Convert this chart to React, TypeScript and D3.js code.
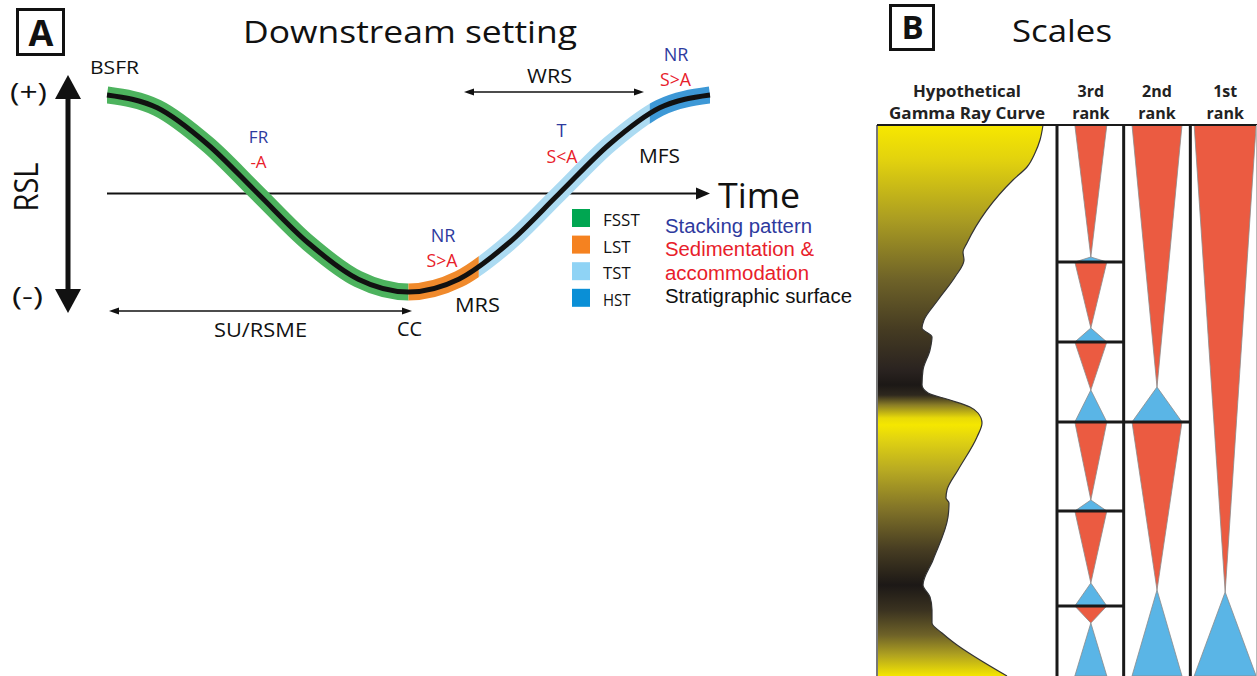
import React from 'react';
import * as d3 from 'd3';

// ---------- Panel A: relative sea level through one cycle ----------
const TIME = [0, 1, 2, 3, 4, 5, 6, 7, 8, 9, 10, 11, 12];
const RSL = [1, 0.87, 0.5, 0, -0.5, -0.87, -1, -0.87, -0.5, 0, 0.5, 0.87, 1];

const TRACT_NAMES = ['FSST', 'LST', 'TST', 'HST'];
const TRACT_START = [0, 6, 7.4, 10.8];
const TRACT_END = [6, 7.4, 10.8, 12];
const TRACT_BAND_COLORS = ['#4db35e', '#f08a2c', '#acdbf2', '#3d98d6'];
const TRACT_KEY_COLORS = ['#00a651', '#f58220', '#8fd3f5', '#0a8fd6'];

const KEY_TEXT = ['Stacking pattern', 'Sedimentation &', 'accommodation', 'Stratigraphic surface'];
const KEY_TEXT_COLORS = ['#2e3a9e', '#e8202a', '#e8202a', '#111111'];

// ---------- Panel B: hypothetical gamma ray log and cycle ranks ----------
const GR_DEPTH = [0, 3, 5.6, 8.4, 11, 23.6, 25.4, 27, 30.4, 35, 39, 40.6, 42.4, 45, 49, 52, 53.6, 55, 56.4, 57.6, 59.6, 62.4, 69, 73, 74.6, 75.6, 78.4, 87, 92, 94.4, 97, 99.6, 101.6, 103.4, 110.2];
const GR_API = [166, 163, 158, 150, 136, 90, 86, 87, 78, 61, 47, 45, 55, 53, 46, 45, 51, 73, 93, 101, 105, 100, 81, 70, 69, 72, 71, 56, 46, 53, 55, 55, 65, 76, 130];

const RANK_LABELS = ['3rd', '2nd', '1st'];
const RANK3_TOP = [0, 27.4, 43.4, 59.4, 77.2, 96.2];
const RANK3_TURN = [26.4, 40.6, 53, 75, 91.6, 99.6];
const RANK3_BASE = [27.4, 43.4, 59.4, 77.2, 96.2, 110.2];
const RANK2_TOP = [0, 59.4];
const RANK2_TURN = [52.4, 93];
const RANK2_BASE = [59.4, 110.2];
const RANK1_TOP = [0];
const RANK1_TURN = [93.4];
const RANK1_BASE = [110.2];

const CALIBRI = "'Open Sans', 'DejaVu Sans', sans-serif";
const ARIAL = "'Liberation Sans', Arial, sans-serif";
const RED = '#eb5b41';
const BLUE = '#5ab5e6';
const TEXT_BLUE = '#2e3a9e';
const TEXT_RED = '#e8202a';

export default function App() {
  const W = 1257;
  const H = 676;

  const x = d3.scaleLinear().domain([0, 12]).range([107, 710]);
  const y = d3.scaleLinear().domain([-1, 1]).range([292, 95]);
  const rslPts = TIME.map((t, i) => [t, RSL[i]] as [number, number]);
  const rslLine = d3
    .line<[number, number]>()
    .x((d) => x(d[0]))
    .y((d) => y(d[1]))
    .curve(d3.curveMonotoneX);
  const rslPath = rslLine(rslPts) || '';

  const depth = d3.scaleLinear().domain([0, 110.2]).range([125, 676]);
  const gr = d3.scaleLinear().domain([0, 170]).range([877, 1047]);
  const grPts = GR_DEPTH.map((dd, i) => [GR_API[i], dd] as [number, number]);
  const grLine = d3
    .line<[number, number]>()
    .x((d) => gr(d[0]))
    .y((d) => depth(d[1]))
    .curve(d3.curveMonotoneY);
  const grCurve = grLine(grPts) || '';
  const grArea = grCurve + `L${gr(0)},${depth(110.2)}L${gr(0)},${depth(0)}Z`;

  const rankX = d3.scaleBand<string>().domain(RANK_LABELS).range([1057, 1257]);
  const halfW: Record<string, number> = { '3rd': 16, '2nd': 25, '1st': 31 };
  const centerShift: Record<string, number> = { '3rd': 0.5, '2nd': 0, '1st': 1.5 };
  const ranks: Record<string, { top: number[]; turn: number[]; base: number[] }> = {
    '3rd': { top: RANK3_TOP, turn: RANK3_TURN, base: RANK3_BASE },
    '2nd': { top: RANK2_TOP, turn: RANK2_TURN, base: RANK2_BASE },
    '1st': { top: RANK1_TOP, turn: RANK1_TURN, base: RANK1_BASE },
  };

  // gamma log shading: bright at high-GR depths, dark at low-GR depths
  const gradStops: [number, string][] = [
    [0, '#f7e800'],
    [7, '#e2d20e'],
    [19, '#aa9c22'],
    [31, '#6e6228'],
    [41, '#453b22'],
    [49, '#2a2320'],
    [52, '#1c1816'],
    [54, '#2e281e'],
    [56, '#8a7d26'],
    [58.6, '#e8da08'],
    [60, '#f5e700'],
    [63, '#e0d212'],
    [69, '#b8aa22'],
    [77, '#807228'],
    [85, '#463c22'],
    [92, '#1c1816'],
    [97, '#3a3220'],
    [102, '#6e6228'],
    [106, '#b0a220'],
    [110.2, '#f5e600'],
  ];

  const tri = (cx: number, hw: number, yBase: number, yApex: number) =>
    `M${cx - hw},${yBase}L${cx + hw},${yBase}L${cx},${yApex}Z`;

  const arrowHead = (tipX: number, tipY: number, dir: number, len: number, hw: number) =>
    `M${tipX},${tipY}L${tipX - dir * len},${tipY - hw}L${tipX - dir * len},${tipY + hw}Z`;

  return (
    <svg
      width={W}
      height={H}
      viewBox={`0 0 ${W} ${H}`}
      style={{ position: 'absolute', left: 0, top: 0, background: '#fff' }}
    >
      <rect x={0} y={0} width={W} height={H} fill="#fff" />
      <defs>
        {TRACT_NAMES.map((n, i) => (
          <clipPath key={n} id={`clip-${n}`}>
            <rect x={x(TRACT_START[i])} y={0} width={x(TRACT_END[i]) - x(TRACT_START[i])} height={H} />
          </clipPath>
        ))}
        <linearGradient id="grGrad" gradientUnits="userSpaceOnUse" x1={0} x2={0} y1={depth(0)} y2={depth(110.2)}>
          {gradStops.map(([dd, c], i) => (
            <stop key={i} offset={dd / 110.2} stopColor={c} />
          ))}
        </linearGradient>
      </defs>

      {/* ===== Panel A ===== */}
      <rect x={17.5} y={9.5} width={46} height={45} fill="none" stroke="#111" strokeWidth={3} />
      <text x={41} y={46} textAnchor="middle" fontFamily={CALIBRI} fontWeight={700} fontSize={36} fill="#111">
        A
      </text>
      <text x={243} y={43} fontFamily={CALIBRI} fontSize={31} textLength={334} lengthAdjust="spacingAndGlyphs" fill="#111">
        Downstream setting
      </text>

      {/* RSL axis */}
      <line x1={68} x2={68} y1={94} y2={294} stroke="#111" strokeWidth={5} />
      <path d={`M68,75L55,99L81,99Z`} fill="#111" />
      <path d={`M68,313L55,289L81,289Z`} fill="#111" />
      <text x={10} y={101} fontFamily={CALIBRI} fontSize={25} textLength={37} lengthAdjust="spacingAndGlyphs" fill="#111">
        (+)
      </text>
      <text x={12} y={305} fontFamily={CALIBRI} fontSize={25} textLength={31} lengthAdjust="spacingAndGlyphs" fill="#111">
        (-)
      </text>
      <text
        transform="translate(38,187) rotate(-90)"
        textAnchor="middle"
        fontFamily={CALIBRI}
        fontSize={32}
        textLength={49}
        lengthAdjust="spacingAndGlyphs"
        fill="#111"
      >
        RSL
      </text>

      {/* Time axis */}
      <line x1={x(0)} x2={698} y1={y(0)} y2={y(0)} stroke="#111" strokeWidth={2} />
      <path d={arrowHead(710, y(0), 1, 14, 6)} fill="#111" />
      <text x={718} y={208} fontFamily={CALIBRI} fontSize={35} textLength={82} lengthAdjust="spacingAndGlyphs" fill="#111">
        Time
      </text>

      {/* systems tract band along the RSL curve */}
      {TRACT_NAMES.map((n, i) => (
        <path key={n} d={rslPath} fill="none" stroke={TRACT_BAND_COLORS[i]} strokeWidth={17} clipPath={`url(#clip-${n})`} />
      ))}
      <path d={rslPath} fill="none" stroke="#111" strokeWidth={5} />

      {/* surfaces and annotations */}
      <text x={90} y={74} fontFamily={CALIBRI} fontSize={19} textLength={49} lengthAdjust="spacingAndGlyphs" fill="#111">
        BSFR
      </text>
      <text x={258.5} y={143} textAnchor="middle" fontFamily={CALIBRI} fontSize={17} fill={TEXT_BLUE}>
        FR
      </text>
      <text x={258.5} y={168} textAnchor="middle" fontFamily={CALIBRI} fontSize={17} fill={TEXT_RED}>
        -A
      </text>
      <text x={443} y={242} textAnchor="middle" fontFamily={CALIBRI} fontSize={18} fill={TEXT_BLUE}>
        NR
      </text>
      <text x={442} y={267} textAnchor="middle" fontFamily={CALIBRI} fontSize={18} textLength={31} lengthAdjust="spacingAndGlyphs" fill={TEXT_RED}>
        S&gt;A
      </text>
      <text x={455} y={312} fontFamily={CALIBRI} fontSize={20} textLength={45} lengthAdjust="spacingAndGlyphs" fill="#111">
        MRS
      </text>
      <text x={397} y={336} fontFamily={CALIBRI} fontSize={20} textLength={25} lengthAdjust="spacingAndGlyphs" fill="#111">
        CC
      </text>
      <text x={214} y={337} fontFamily={CALIBRI} fontSize={20} textLength={93} lengthAdjust="spacingAndGlyphs" fill="#111">
        SU/RSME
      </text>
      <text x={561.5} y={137} textAnchor="middle" fontFamily={CALIBRI} fontSize={18} fill={TEXT_BLUE}>
        T
      </text>
      <text x={562} y={163} textAnchor="middle" fontFamily={CALIBRI} fontSize={18} textLength={31} lengthAdjust="spacingAndGlyphs" fill={TEXT_RED}>
        S&lt;A
      </text>
      <text x={639} y={163} fontFamily={CALIBRI} fontSize={20} textLength={41} lengthAdjust="spacingAndGlyphs" fill="#111">
        MFS
      </text>
      <text x={676} y={61} textAnchor="middle" fontFamily={CALIBRI} fontSize={18} fill={TEXT_BLUE}>
        NR
      </text>
      <text x={675.5} y={86} textAnchor="middle" fontFamily={CALIBRI} fontSize={18} textLength={31} lengthAdjust="spacingAndGlyphs" fill={TEXT_RED}>
        S&gt;A
      </text>
      <text x={549.5} y={83} textAnchor="middle" fontFamily={CALIBRI} fontSize={20} textLength={45} lengthAdjust="spacingAndGlyphs" fill="#111">
        WRS
      </text>

      {/* WRS span */}
      <line x1={470} x2={638} y1={92} y2={92} stroke="#111" strokeWidth={1.5} />
      <path d={arrowHead(464, 92, -1, 10, 3.5)} fill="#111" />
      <path d={arrowHead(644, 92, 1, 10, 3.5)} fill="#111" />
      {/* SU/RSME span */}
      <line x1={115} x2={406} y1={311} y2={311} stroke="#111" strokeWidth={1.5} />
      <path d={arrowHead(109, 311, -1, 10, 3.5)} fill="#111" />
      <path d={arrowHead(412, 311, 1, 10, 3.5)} fill="#111" />

      {/* systems tract key */}
      {TRACT_NAMES.map((n, i) => (
        <g key={n}>
          <rect x={572} y={209 + i * 26.6} width={18} height={18} fill={TRACT_KEY_COLORS[i]} />
          <text x={603} y={226 + i * 26.6} fontFamily={CALIBRI} fontSize={17} textLength={n.length * 9.2} lengthAdjust="spacingAndGlyphs" fill="#111">
            {n}
          </text>
        </g>
      ))}
      {KEY_TEXT.map((s, i) => {
        const lens = [147, 149, 144, 187];
        return (
          <text key={s} x={665} y={233 + i * 23.4} fontFamily={ARIAL} fontSize={20} textLength={lens[i]} lengthAdjust="spacingAndGlyphs" fill={KEY_TEXT_COLORS[i]}>
            {s}
          </text>
        );
      })}

      {/* ===== Panel B ===== */}
      <rect x={890.5} y={5.5} width={43} height={44} fill="none" stroke="#111" strokeWidth={3} />
      <text x={912.5} y={38.5} textAnchor="middle" fontFamily={CALIBRI} fontWeight={700} fontSize={33} fill="#111">
        B
      </text>
      <text x={1012} y={42} fontFamily={CALIBRI} fontSize={31} textLength={100} lengthAdjust="spacingAndGlyphs" fill="#111">
        Scales
      </text>

      <text x={967} y={97} textAnchor="middle" fontFamily={CALIBRI} fontWeight={700} fontSize={16} textLength={108} lengthAdjust="spacingAndGlyphs" fill="#222">
        Hypothetical
      </text>
      <text x={967} y={119} textAnchor="middle" fontFamily={CALIBRI} fontWeight={700} fontSize={16} textLength={156} lengthAdjust="spacingAndGlyphs" fill="#222">
        Gamma Ray Curve
      </text>
      {RANK_LABELS.map((r) => {
        const cx = (rankX(r) || 0) + rankX.bandwidth() / 2 + centerShift[r];
        return (
          <g key={r}>
            <text x={cx} y={97} textAnchor="middle" fontFamily={CALIBRI} fontWeight={700} fontSize={16} fill="#222">
              {r}
            </text>
            <text x={cx} y={119} textAnchor="middle" fontFamily={CALIBRI} fontWeight={700} fontSize={16} fill="#222">
              rank
            </text>
          </g>
        );
      })}

      {/* gamma ray log */}
      <path d={grArea} fill="url(#grGrad)" />
      <path d={grCurve} fill="none" stroke="#333" strokeWidth={1.2} />
      <line x1={gr(0)} x2={gr(0)} y1={depth(0)} y2={H} stroke="#777" strokeWidth={2} />

      {/* cycle triangles */}
      {RANK_LABELS.map((r) => {
        const cx = (rankX(r) || 0) + rankX.bandwidth() / 2 + centerShift[r];
        const hw = halfW[r];
        const d = ranks[r];
        return (
          <g key={r}>
            {d.top.map((t, i) => (
              <g key={i}>
                <path d={tri(cx, hw, depth(t), depth(d.turn[i]))} fill={RED} stroke="#8a8a8a" strokeWidth={0.8} />
                <path d={tri(cx, hw, depth(d.base[i]), depth(d.turn[i]))} fill={BLUE} stroke="#8a8a8a" strokeWidth={0.8} />
              </g>
            ))}
          </g>
        );
      })}

      {/* cycle boundaries */}
      {RANK3_BASE.slice(0, -1).map((b, i) => (
        <line key={`r3-${i}`} x1={rankX('3rd') || 0} x2={(rankX('3rd') || 0) + rankX.bandwidth()} y1={depth(b)} y2={depth(b)} stroke="#1a1a1a" strokeWidth={3} />
      ))}
      {RANK2_BASE.slice(0, -1).map((b, i) => (
        <line key={`r2-${i}`} x1={rankX('2nd') || 0} x2={(rankX('2nd') || 0) + rankX.bandwidth()} y1={depth(b)} y2={depth(b)} stroke="#1a1a1a" strokeWidth={3} />
      ))}

      {/* column frame */}
      <line x1={877} x2={W} y1={depth(0)} y2={depth(0)} stroke="#1a1a1a" strokeWidth={2} />
      {RANK_LABELS.map((r) => (
        <line key={`v-${r}`} x1={rankX(r) || 0} x2={rankX(r) || 0} y1={depth(0)} y2={H} stroke="#1a1a1a" strokeWidth={3} />
      ))}
      <line x1={W - 0.5} x2={W - 0.5} y1={depth(0)} y2={H} stroke="#bbb" strokeWidth={1} />
    </svg>
  );
}
